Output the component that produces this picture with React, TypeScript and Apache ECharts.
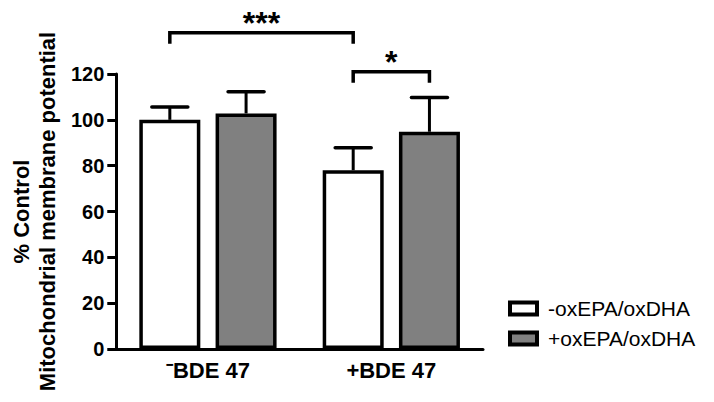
import React, { useEffect, useRef } from "react";
import * as echarts from "echarts";

const categories = ["⁻BDE 47", "+BDE 47"];
const seriesNames = ["-oxEPA/oxDHA", "+oxEPA/oxDHA"];
const meanMinus = [100, 78];
const meanPlus = [102.8, 94.8];
const errMinus = [5.6, 9.8];
const errPlus = [9.5, 14.9];
const yTicks = { min: 0, max: 120, interval: 20 };
// brackets: [catA, groupA, catB, groupB, level]
const brackets = [
  [0, 0, 1, 0, 138],
  [1, 0, 1, 1, 121],
];
const bracketLabels = ["***", "*"];

const FONT = "'Liberation Sans', Arial, Helvetica, sans-serif";
const BAR_W = 61;
const GAP_RATIO = 0.25;
const HALF_OFF = (BAR_W + BAR_W * GAP_RATIO) / 2;

export default function App() {
  const ref = useRef<HTMLDivElement>(null);
  useEffect(() => {
    if (!ref.current) return;
    const chart = echarts.init(ref.current, null, { renderer: "svg" });
    const errData = [
      ...meanMinus.map((v, i) => [i, v, errMinus[i], 0]),
      ...meanPlus.map((v, i) => [i, v, errPlus[i], 1]),
    ];
    chart.setOption({
      animation: false,
      backgroundColor: "#fff",
      textStyle: { fontFamily: FONT, color: "#000" },
      grid: { left: 109, right: 231, top: 74, bottom: 53 },
      legend: {
        orient: "vertical",
        left: 503,
        top: 293,
        itemWidth: 27,
        itemHeight: 12,
        itemGap: 9,
        icon: "rect",
        selectedMode: false,
        itemStyle: { borderColor: "#000", borderWidth: 4 },
        textStyle: { fontFamily: FONT, fontSize: 21, color: "#000", padding: [0, 0, 0, 6] },
        data: seriesNames,
      },
      xAxis: {
        type: "category",
        data: categories,
        axisLine: { lineStyle: { color: "#000", width: 3 } },
        axisTick: { alignWithLabel: true, length: 8, lineStyle: { color: "#000", width: 3 } },
        axisLabel: { fontFamily: FONT, fontSize: 22, fontWeight: "bold", color: "#000", margin: 10 },
      },
      yAxis: {
        type: "value",
        min: yTicks.min,
        max: yTicks.max,
        interval: yTicks.interval,
        name: "% Control\nMitochondrial membrane potential",
        nameLocation: "middle",
        nameRotate: 90,
        nameGap: 56,
        nameTextStyle: { fontFamily: FONT, fontSize: 22, fontWeight: "bold", color: "#000", lineHeight: 26 },
        splitLine: { show: false },
        axisLine: { show: true, lineStyle: { color: "#000", width: 3 } },
        axisTick: { show: true, length: 9, lineStyle: { color: "#000", width: 3 } },
        axisLabel: { fontFamily: FONT, fontSize: 20, fontWeight: "bold", color: "#000", margin: 12 },
      },
      series: [
        {
          name: seriesNames[0],
          type: "bar",
          data: meanMinus,
          barWidth: BAR_W,
          barGap: GAP_RATIO * 100 + "%",
          itemStyle: { color: "#ffffff", borderColor: "#000", borderWidth: 3.5 },
          z: 3,
        },
        {
          name: seriesNames[1],
          type: "bar",
          data: meanPlus,
          barWidth: BAR_W,
          barGap: GAP_RATIO * 100 + "%",
          itemStyle: { color: "#808080", borderColor: "#000", borderWidth: 3.5 },
          z: 3,
        },
        {
          type: "custom",
          z: 2,
          silent: true,
          data: errData,
          renderItem: (params: any, api: any) => {
            const cat = api.value(0);
            const v = api.value(1);
            const e = api.value(2);
            const g = api.value(3);
            const off = g === 0 ? -HALF_OFF : HALF_OFF;
            const p0 = api.coord([cat, v]);
            const p1 = api.coord([cat, v + e]);
            const x = p0[0] + off;
            const capHalf = 18;
            return {
              type: "group",
              children: [
                { type: "line", shape: { x1: x, y1: p0[1], x2: x, y2: p1[1] }, style: { stroke: "#000", lineWidth: 3 } },
                { type: "line", shape: { x1: x - capHalf, y1: p1[1], x2: x + capHalf, y2: p1[1] }, style: { stroke: "#000", lineWidth: 3.5, lineCap: "round" } },
              ],
            };
          },
        },
        {
          type: "custom",
          z: 4,
          silent: true,
          clip: false,
          data: brackets,
          renderItem: (params: any, api: any) => {
            const ca = api.value(0);
            const ga = api.value(1);
            const cb = api.value(2);
            const gb = api.value(3);
            const lvl = api.value(4);
            const pa = api.coord([ca, lvl]);
            const pb = api.coord([cb, lvl]);
            const xa = pa[0] + (ga === 0 ? -HALF_OFF : HALF_OFF);
            const xb = pb[0] + (gb === 0 ? -HALF_OFF : HALF_OFF);
            const y = pa[1];
            const drop = 11;
            const label = bracketLabels[params.dataIndex];
            return {
              type: "group",
              children: [
                {
                  type: "polyline",
                  shape: { points: [[xa, y + drop], [xa, y], [xb, y], [xb, y + drop]] },
                  style: { stroke: "#000", lineWidth: 3.5, fill: null, lineJoin: "miter" },
                },
                {
                  type: "text",
                  x: (xa + xb) / 2,
                  y: y + 6,
                  style: {
                    text: label,
                    fontFamily: FONT,
                    fontSize: 32,
                    fontWeight: "bold",
                    fill: "#000",
                    align: "center",
                    verticalAlign: "bottom",
                  },
                },
              ],
            };
          },
        },
      ],
    });
    return () => chart.dispose();
  }, []);
  return <div ref={ref} style={{ width: 714, height: 402, margin: -8 }} />;
}
